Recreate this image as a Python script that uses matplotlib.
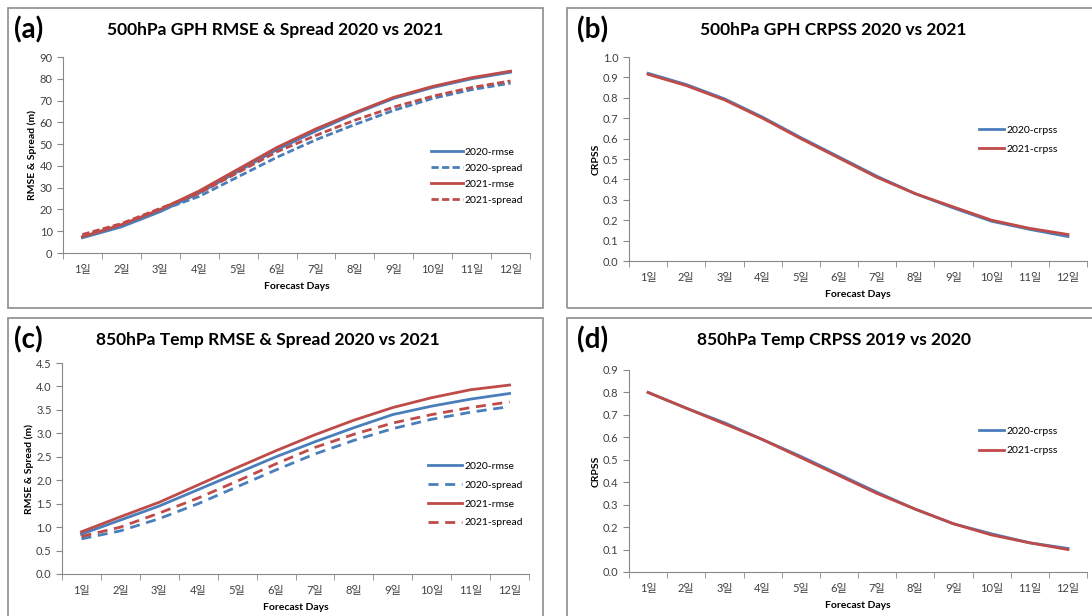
import numpy as np
import matplotlib.pyplot as plt
from matplotlib.patches import Rectangle

plt.rcParams['font.family'] = ['Lato', 'Noto Sans CJK KR', 'DejaVu Sans']

days = [f"{i}일" for i in range(1, 13)]

# (a) 500hPa GPH
gph_rmse_2020 = [7, 12, 19, 27.5, 37.5, 47.5, 56, 64, 71, 76, 80, 83]
gph_rmse_2021 = [7.5, 13, 20, 28.5, 38.5, 48.5, 57, 64.5, 71.5, 76.5, 80.5, 83.5]
gph_spread_2020 = [8, 13, 19.5, 26, 35, 44, 52, 59, 65.5, 71, 75, 78]
gph_spread_2021 = [8.5, 13.5, 20.5, 27.5, 37, 46.5, 54, 61, 67, 72, 76, 79]

# (b) 500hPa GPH CRPSS
gph_crpss_2020 = [0.92, 0.865, 0.795, 0.705, 0.605, 0.51, 0.415, 0.33, 0.26, 0.195, 0.155, 0.12]
gph_crpss_2021 = [0.915, 0.86, 0.79, 0.70, 0.60, 0.505, 0.41, 0.33, 0.265, 0.20, 0.16, 0.13]

# (c) 850hPa Temp
t_rmse_2020 = [0.85, 1.15, 1.45, 1.8, 2.15, 2.5, 2.82, 3.12, 3.4, 3.58, 3.73, 3.85]
t_rmse_2021 = [0.9, 1.22, 1.53, 1.9, 2.27, 2.63, 2.97, 3.28, 3.55, 3.76, 3.93, 4.03]
t_spread_2020 = [0.75, 0.92, 1.18, 1.5, 1.86, 2.22, 2.56, 2.85, 3.1, 3.3, 3.45, 3.57]
t_spread_2021 = [0.8, 1.0, 1.3, 1.62, 1.98, 2.35, 2.7, 2.98, 3.22, 3.4, 3.55, 3.67]

# (d) 850hPa Temp CRPSS
t_crpss_2020 = [0.80, 0.73, 0.665, 0.59, 0.515, 0.435, 0.355, 0.28, 0.215, 0.17, 0.13, 0.105]
t_crpss_2021 = [0.80, 0.73, 0.66, 0.59, 0.51, 0.43, 0.35, 0.28, 0.215, 0.165, 0.13, 0.10]

BLUE = '#4A7EBB'
RED = '#BE4B48'
W, H = 1092, 616

fig = plt.figure(figsize=(W / 100, H / 100), dpi=100)


def fig_rect(l, t, r, b):
    return [l / W, 1 - b / H, (r - l) / W, (b - t) / H]


# panel frames
for l, t, r, b in [(8, 8, 543, 308), (567, 8, 1100, 308),
                   (8, 318, 543, 630), (567, 318, 1100, 630)]:
    fig.add_artist(Rectangle((l / W, 1 - b / H), (r - l) / W, (b - t) / H,
                             transform=fig.transFigure, fill=False,
                             edgecolor='#8c8c8c', linewidth=1.2))


def setup(ax, ymax, step, fmt, ylabel):
    x = np.arange(12)
    ax.set_xlim(-0.5, 11.5)
    ax.set_ylim(0, ymax)
    ax.set_xticks(x)
    ax.set_xticklabels(days, fontsize=8)
    ax.set_xticks(np.arange(-0.5, 12, 1), minor=True)
    ax.tick_params(axis='x', which='major', length=0, pad=8, colors='#404040')
    ax.tick_params(axis='x', which='minor', length=4, direction='out', color='#888888')
    ax.set_yticks(np.arange(0, ymax + step / 2, step))
    ax.yaxis.set_major_formatter(plt.FormatStrFormatter(fmt))
    ax.tick_params(axis='y', length=4, direction='out', color='#888888', labelsize=8,
                   labelcolor='#404040')
    for s in ['top', 'right']:
        ax.spines[s].set_visible(False)
    for s in ['left', 'bottom']:
        ax.spines[s].set_color('#888888')
    ax.set_xlabel('Forecast Days', fontsize=7.5, fontweight='bold', labelpad=5)
    ax.set_ylabel(ylabel, fontsize=7.5, fontweight='bold', labelpad=1.5)
    return x


lw = 2.0
dash_a = (0, (2.6, 1.2))
dash_c = (0, (3.6, 2.4))

# (a)
ax = fig.add_axes(fig_rect(63, 57, 530, 253))
x = setup(ax, 90, 10, '%d', 'RMSE & Spread (m)')
ax.plot(x, gph_rmse_2020, color=BLUE, lw=lw, label='2020-rmse')
ax.plot(x, gph_spread_2020, color=BLUE, lw=lw, ls=dash_a, label='2020-spread')
ax.plot(x, gph_rmse_2021, color=RED, lw=lw, label='2021-rmse')
ax.plot(x, gph_spread_2021, color=RED, lw=lw, ls=dash_a, label='2021-spread')
ax.legend(loc='upper left', bbox_to_anchor=(0.78, 0.56), frameon=False, fontsize=7.5,
          handlelength=3.0, handletextpad=0.2, labelspacing=0.65, borderaxespad=0)

# (b)
ax = fig.add_axes(fig_rect(629, 57, 1087, 261))
x = setup(ax, 1.0, 0.1, '%.1f', 'CRPSS')
ax.plot(x, gph_crpss_2020, color=BLUE, lw=lw, label='2020-crpss')
ax.plot(x, gph_crpss_2021, color=RED, lw=lw, label='2021-crpss')
ax.legend(loc='upper left', bbox_to_anchor=(0.755, 0.685), frameon=False, fontsize=7.5,
          handlelength=2.4, handletextpad=0.2, labelspacing=0.95, borderaxespad=0)

# (c)
ax = fig.add_axes(fig_rect(62, 363, 529, 574))
x = setup(ax, 4.5, 0.5, '%.1f', 'RMSE & Spread (m)')
ax.plot(x, t_rmse_2020, color=BLUE, lw=lw, label='2020-rmse')
ax.plot(x, t_spread_2020, color=BLUE, lw=lw, ls=dash_c, label='2020-spread')
ax.plot(x, t_rmse_2021, color=RED, lw=lw, label='2021-rmse')
ax.plot(x, t_spread_2021, color=RED, lw=lw, ls=dash_c, label='2021-spread')
ax.legend(loc='upper left', bbox_to_anchor=(0.775, 0.553), frameon=False, fontsize=7.5,
          handlelength=3.3, handletextpad=0.2, labelspacing=0.92, borderaxespad=0)

# (d)
ax = fig.add_axes(fig_rect(629, 370, 1087, 572))
x = setup(ax, 0.9, 0.1, '%.1f', 'CRPSS')
ax.plot(x, t_crpss_2020, color=BLUE, lw=lw, label='2020-crpss')
ax.plot(x, t_crpss_2021, color=RED, lw=lw, label='2021-crpss')
ax.legend(loc='upper left', bbox_to_anchor=(0.755, 0.74), frameon=False, fontsize=7.5,
          handlelength=2.4, handletextpad=0.2, labelspacing=0.95, borderaxespad=0)

# titles and panel letters
titles = [('(a)', 14, 30, '500hPa GPH RMSE & Spread 2020 vs 2021', 275, 30),
          ('(b)', 577, 30, '500hPa GPH CRPSS 2020 vs 2021', 833, 30),
          ('(c)', 14, 340, '850hPa Temp RMSE & Spread 2020 vs 2021', 268, 340),
          ('(d)', 577, 340, '850hPa Temp CRPSS 2019 vs 2020', 834, 340)]
for letter, lx, ly, title, tx, ty in titles:
    fig.text(lx / W, 1 - ly / H, letter, fontsize=20, fontweight='bold', va='center', ha='left')
    fig.text(tx / W, 1 - ty / H, title, fontsize=12.5, fontweight='bold', va='center', ha='center')

fig.savefig('out.png', dpi=100)
